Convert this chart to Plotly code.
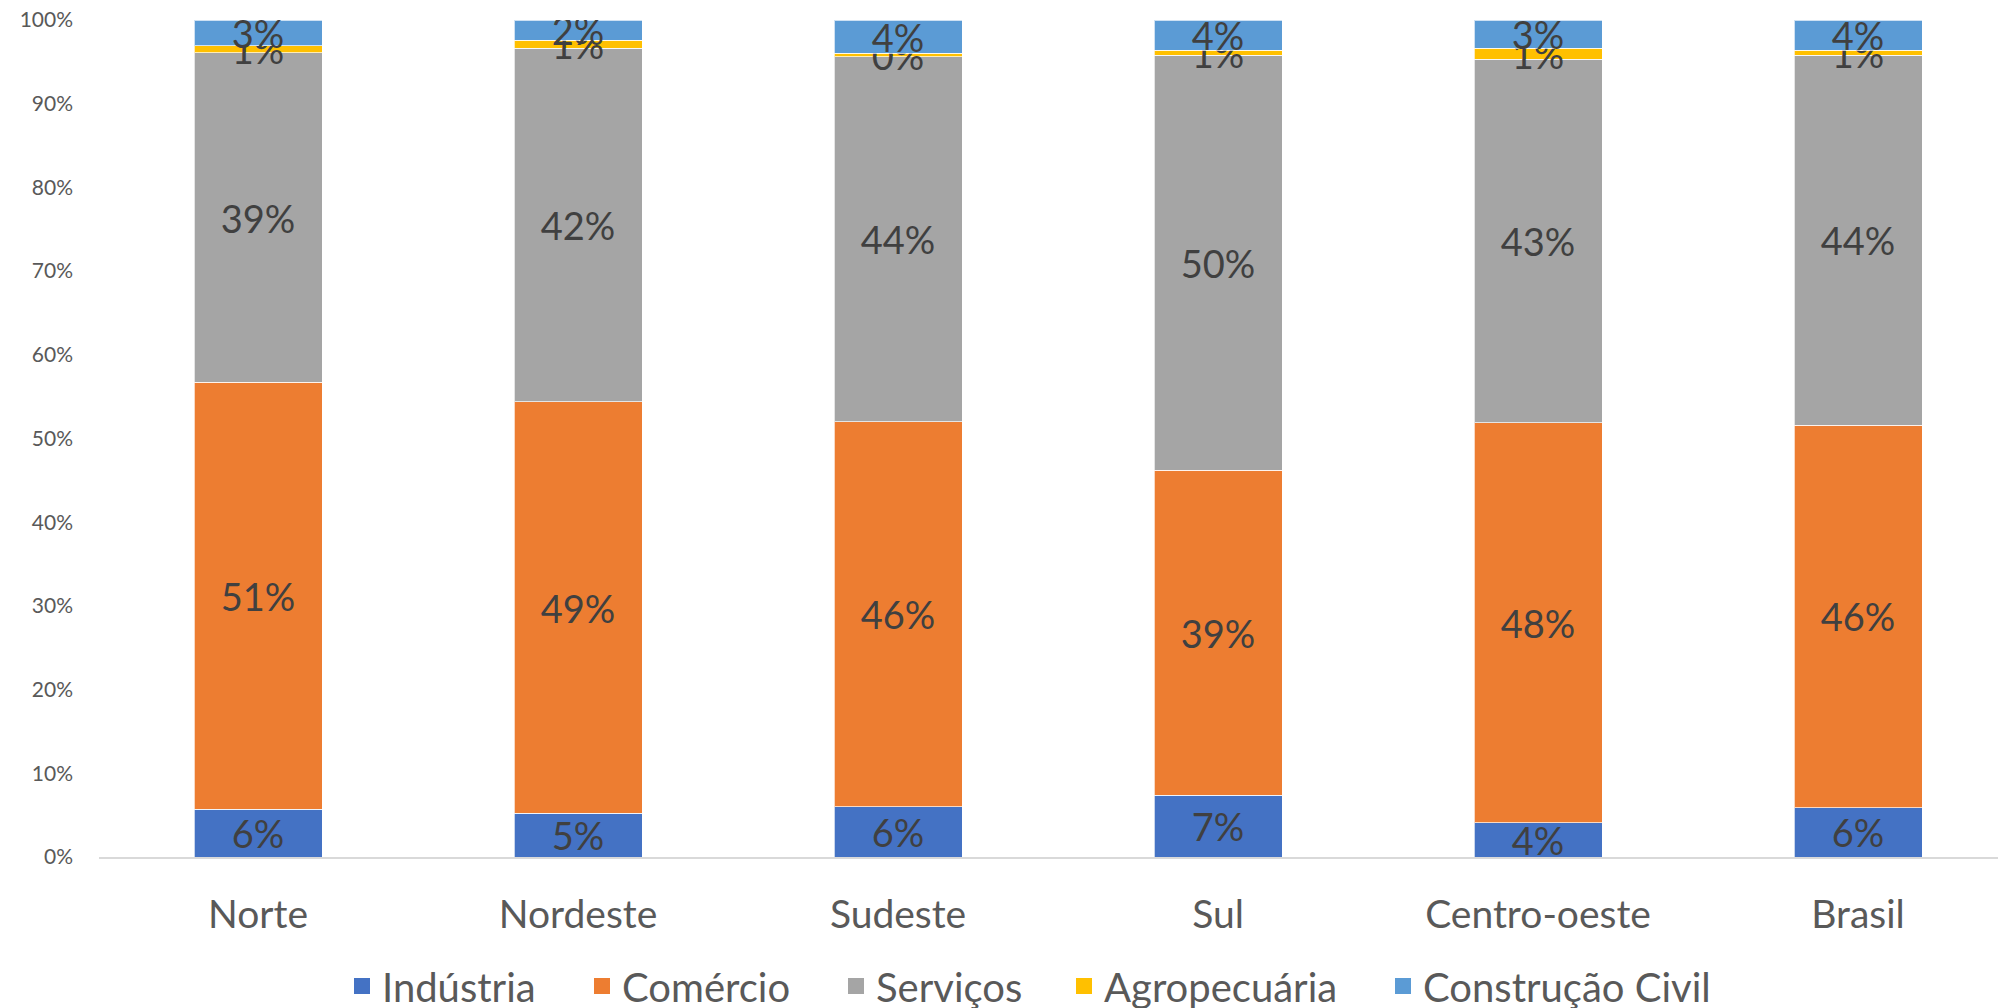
import plotly.graph_objects as go

regions = ["Norte", "Nordeste", "Sudeste", "Sul", "Centro-oeste", "Brasil"]
industria = [5.7, 5.2, 6.0, 7.4, 4.1, 5.9]
comercio = [51.0, 49.2, 46.0, 38.8, 47.8, 45.7]
servicos = [39.4, 42.2, 43.6, 49.6, 43.4, 44.2]
agropecuaria = [0.8, 1.0, 0.4, 0.6, 1.3, 0.6]
construcao = [3.1, 2.4, 4.0, 3.6, 3.4, 3.6]

series = [
    ("Indústria", industria, "#4472C4"),
    ("Comércio", comercio, "#ED7D31"),
    ("Serviços", servicos, "#A5A5A5"),
    ("Agropecuária", agropecuaria, "#FFC000"),
    ("Construção Civil", construcao, "#5B9BD5"),
]

FONT = "Lato"
# page is offset by the 8px body margin
W, H = 1998, 1000
L, T = 91, 12
B = H - 849
PW = W - L

fig = go.Figure()
for name, vals, color in series:
    fig.add_trace(go.Bar(
        x=regions, y=vals, name=name, showlegend=False,
        marker=dict(color=color, line=dict(color="rgba(255,255,255,0.7)", width=1)),
        texttemplate="%{y:.0f}%", textposition="inside", insidetextanchor="middle",
        textangle=0, constraintext="none",
        insidetextfont=dict(family=FONT, size=38, color="#404040"),
        hoverinfo="skip",
    ))

legend_marker_page_x = [362, 602, 856, 1084, 1403]
legend_layouts = {}
for i, (name, vals, color) in enumerate(series):
    lname = "legend" if i == 0 else f"legend{i+1}"
    fig.add_trace(go.Scatter(
        x=[None], y=[None], mode="markers", name=name,
        marker=dict(symbol="square", size=23, color=color),
        showlegend=True, hoverinfo="skip", legend=lname,
    ))
    xfig = legend_marker_page_x[i] - 8 - 20
    legend_layouts[lname] = dict(
        orientation="h", x=(xfig - L) / PW, xanchor="left",
        y=-0.154, yanchor="middle",
        font=dict(family=FONT, size=40, color="#595959"),
        itemwidth=30, bgcolor="rgba(0,0,0,0)",
    )

fig.update_layout(
    width=W, height=H,
    barmode="stack", bargap=0.6,
    paper_bgcolor="white", plot_bgcolor="white",
    margin=dict(l=L, r=0, t=T, b=B, autoexpand=False),
    font=dict(family=FONT, color="#595959"),
    **legend_layouts,
)
fig.update_xaxes(
    type="category", range=[-0.497, -0.497 + PW / 320], automargin=False,
    showline=True, linecolor="#D9D9D9", linewidth=2,
    showgrid=False, ticks="", ticklabelstandoff=22, tickangle=0,
    tickfont=dict(family=FONT, size=39, color="#595959"),
)
fig.update_yaxes(
    range=[0, 100], dtick=10, ticksuffix="%", automargin=False,
    showgrid=False, zeroline=False, showline=False,
    ticklabelstandoff=25, ticklabeloverflow="allow",
    tickfont=dict(family=FONT, size=21, color="#595959"),
)

fig.write_html("out.html")
